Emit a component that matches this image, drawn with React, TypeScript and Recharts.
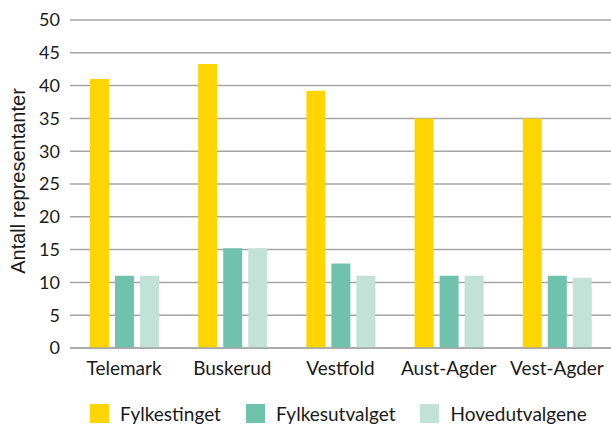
import React from "react";
import { BarChart, Bar, XAxis, YAxis, CartesianGrid, Legend } from "recharts";

const categories = ["Telemark", "Buskerud", "Vestfold", "Aust-Agder", "Vest-Agder"];
const fylkestinget = [41, 43.3, 39.2, 35, 35];
const fylkesutvalget = [11, 15.2, 12.9, 11, 11];
const hovedutvalgene = [11, 15.2, 11, 11, 10.7];
const yTicks = [0, 5, 10, 15, 20, 25, 30, 35, 40, 45, 50];

const seriesNames = ["Fylkestinget", "Fylkesutvalget", "Hovedutvalgene"];
const colors = ["#FFD500", "#6FC3AC", "#C2E2D8"];

const data = categories.map((c, i) => ({
  name: c,
  Fylkestinget: fylkestinget[i],
  Fylkesutvalget: fylkesutvalget[i],
  Hovedutvalgene: hovedutvalgene[i],
}));

const FONT = "Lato, 'DejaVu Sans', sans-serif";

const renderLegend = (props: any) => {
  const payload = props.payload || [];
  return (
    <div style={{ display: "flex", alignItems: "center", fontFamily: FONT, fontSize: 19, color: "#1a1a1a", whiteSpace: "nowrap" }}>
      {payload.map((p: any, i: number) => (
        <div key={i} style={{ display: "flex", alignItems: "center", marginRight: 25 }}>
          <div style={{ width: 19, height: 19, background: p.color, marginRight: 11 }} />
          <span>{p.value}</span>
        </div>
      ))}
    </div>
  );
};

const YLabel = (props: any) => {
  const vb = props.viewBox || { x: 10, y: 20, width: 60, height: 328 };
  const cx = vb.x + 15;
  const cy = vb.y + vb.height / 2 - 3;
  return (
    <text
      x={cx}
      y={cy}
      transform={`rotate(-90 ${cx} ${cy})`}
      textAnchor="middle"
      fontFamily="'Liberation Sans', Arial, sans-serif"
      fontSize={20}
      fill="#1a1a1a"
    >
      Antall representanter
    </text>
  );
};

export default function App() {
  return (
    <div style={{ position: "absolute", left: 0, top: 0, width: 611, height: 424, background: "#fff", overflow: "hidden" }}>
      <BarChart
        width={611}
        height={424}
        data={data}
        margin={{ top: 20, right: 0, bottom: 46, left: 10 }}
        barSize={19}
        barGap={6}
      >
        <CartesianGrid vertical={false} stroke="#A6A6A6" strokeWidth={1.5} />
        <XAxis
          dataKey="name"
          height={30}
          tickLine={false}
          axisLine={{ stroke: "#A6A6A6", strokeWidth: 1.5 }}
          tickMargin={8}
          tick={{ fontFamily: FONT, fontSize: 19, fill: "#1a1a1a" }}
          interval={0}
        />
        <YAxis
          width={60}
          domain={[0, 50]}
          ticks={yTicks}
          tickLine={false}
          axisLine={false}
          tickMargin={4}
          tick={{ fontFamily: FONT, fontSize: 18, fill: "#1a1a1a" }}
          label={<YLabel />}
        />
        <Legend
          layout="horizontal"
          verticalAlign="bottom"
          align="left"
          content={renderLegend}
          wrapperStyle={{ position: "absolute", left: 90, top: 402, width: 540, height: 0, overflow: "visible" }}
        />
        {seriesNames.map((s, i) => (
          <Bar key={s} dataKey={s} name={s} fill={colors[i]} isAnimationActive={false} />
        ))}
      </BarChart>
    </div>
  );
}
